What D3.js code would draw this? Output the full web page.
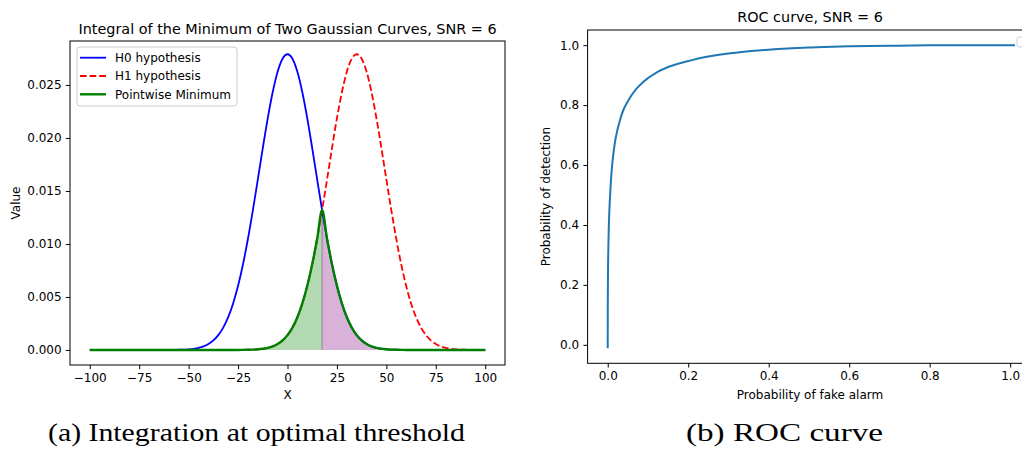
<!DOCTYPE html>
<html>
<head>
<meta charset="utf-8">
<script src="https://cdn.jsdelivr.net/npm/d3@7"></script>
<style>
  body { margin: 0; background: #fff; }
  svg { display: block; font-family: "DejaVu Sans", sans-serif; }
</style>
</head>
<body>
<svg id="fig" width="1022" height="450"></svg>
<script>
// x grid of the two gaussian curves
const xValues = [
  -100, -97.5, -95, -92.5, -90, -87.5, -85, -82.5, -80, -77.5, -75, -72.5, -70, -67.5, -65, -62.5,
  -60, -57.5, -55, -52.5, -50, -47.5, -45, -42.5, -40, -37.5, -35, -32.5, -30, -27.5, -25, -22.5,
  -20, -17.5, -15, -12.5, -10, -7.5, -5, -2.5, 0, 2.5, 5, 7.5, 10, 12.5, 15, 17.5,
  20, 22.5, 25, 27.5, 30, 32.5, 35, 37.5, 40, 42.5, 45, 47.5, 50, 52.5, 55, 57.5,
  60, 62.5, 65, 67.5, 70, 72.5, 75, 77.5, 80, 82.5, 85, 87.5, 90, 92.5, 95, 97.5, 100
];

const h0Values = [
  0, 0, 0, 0, 0, 0, 0, 0, 0, 0, 0, 0, 0, 0, 0, 0,
  0, 0.00001, 0.00002, 0.00003, 0.00006, 0.00011, 0.00020, 0.00034, 0.00056, 0.00090, 0.00140, 0.00211, 0.00309, 0.00439, 0.00605, 0.00809,
  0.01049, 0.01320, 0.01609, 0.01904, 0.02185, 0.02431, 0.02625, 0.02748, 0.02790, 0.02748, 0.02625, 0.02431, 0.02185, 0.01904, 0.01609, 0.01320,
  0.01049, 0.00809, 0.00605, 0.00439, 0.00309, 0.00211, 0.00140, 0.00090, 0.00056, 0.00034, 0.00020, 0.00011, 0.00006, 0.00003, 0.00002, 0.00001,
  0, 0, 0, 0, 0, 0, 0, 0, 0, 0, 0, 0, 0, 0, 0, 0, 0
];

const h1Values = [
  0, 0, 0, 0, 0, 0, 0, 0, 0, 0, 0, 0, 0, 0, 0, 0,
  0, 0, 0, 0, 0, 0, 0, 0, 0, 0, 0, 0, 0, 0, 0, 0.00001,
  0.00002, 0.00003, 0.00006, 0.00011, 0.00020, 0.00034, 0.00056, 0.00090, 0.00140, 0.00211, 0.00309, 0.00439, 0.00605, 0.00809, 0.01049, 0.01320,
  0.01609, 0.01904, 0.02185, 0.02431, 0.02625, 0.02748, 0.02790, 0.02748, 0.02625, 0.02431, 0.02185, 0.01904, 0.01609, 0.01320, 0.01049, 0.00809,
  0.00605, 0.00439, 0.00309, 0.00211, 0.00140, 0.00090, 0.00056, 0.00034, 0.00020, 0.00011, 0.00006, 0.00003, 0.00002, 0.00001, 0, 0, 0
];

const threshold = 17.5;

// ROC curve points (right panel)
const pfaValues = [0, 0, 0.00001, 0.0001, 0.0005, 0.001, 0.002, 0.004, 0.007, 0.01, 0.015, 0.02, 0.03, 0.04,
  0.05, 0.075, 0.1, 0.15, 0.2, 0.25, 0.3, 0.4, 0.5, 0.6, 0.7, 0.8, 0.9, 1.0, 1.012];
const pdValues = [-0.011, 0.012, 0.04, 0.11, 0.215, 0.28, 0.355, 0.445, 0.525, 0.585, 0.648, 0.692, 0.748, 0.787,
  0.813, 0.86, 0.89, 0.927, 0.947, 0.962, 0.972, 0.985, 0.992, 0.996, 0.998, 0.9995, 0.9999, 1.0, 1.0];

const leftXTicks = [-100, -75, -50, -25, 0, 25, 50, 75, 100];
const leftYTicks = [0, 0.005, 0.01, 0.015, 0.02, 0.025];
const rightTicks = [0, 0.2, 0.4, 0.6, 0.8, 1.0];

const legendItems = [
  { label: "H0 hypothesis", color: "#0000ff", dash: null, width: 1.8 },
  { label: "H1 hypothesis", color: "#ff0000", dash: "6.7,2.9", width: 1.8 },
  { label: "Pointwise Minimum", color: "#008000", dash: null, width: 2.4 }
];

const svg = d3.select("#fig");
const tickFont = 12;

function styleAxis(g) {
  g.select(".domain").remove();
  g.selectAll(".tick line").attr("stroke", "#000").attr("stroke-width", 1);
  g.selectAll(".tick text").attr("fill", "#000").attr("font-size", tickFont)
    .attr("font-family", "DejaVu Sans, sans-serif");
}

// ---------- left panel ----------
const L = { left: 70, right: 505, top: 41, bottom: 365 };
const lx = d3.scaleLinear().domain([-110, 110]).range([L.left, L.right]);
const ly = d3.scaleLinear().domain([-0.00142, 0.02915]).range([L.bottom, L.top]);

const minPts = xValues.map((x, i) => ({ x, y: Math.min(h0Values[i], h1Values[i]) }));
const leftPart = minPts.filter((d) => d.x <= threshold);
const rightPart = minPts.filter((d) => d.x >= threshold);

const area = d3.area().curve(d3.curveMonotoneX)
  .x((d) => lx(d.x)).y0(ly(0)).y1((d) => ly(d.y));
const line = d3.line().curve(d3.curveMonotoneX)
  .x((d) => lx(d.x)).y((d) => ly(d.y));

const left = svg.append("g");

left.append("path").datum(leftPart).attr("d", area)
  .attr("fill", "#008000").attr("fill-opacity", 0.3);
left.append("path").datum(rightPart).attr("d", area)
  .attr("fill", "#800080").attr("fill-opacity", 0.3);
left.append("line")
  .attr("x1", lx(threshold)).attr("x2", lx(threshold))
  .attr("y1", ly(0)).attr("y2", ly(rightPart[0].y))
  .attr("stroke", "#806080").attr("stroke-opacity", 0.7).attr("stroke-width", 1);

const h0Pts = xValues.map((x, i) => ({ x, y: h0Values[i] }));
const h1Pts = xValues.map((x, i) => ({ x, y: h1Values[i] }));

left.append("path").datum(h0Pts).attr("d", line)
  .attr("fill", "none").attr("stroke", "#0000ff").attr("stroke-width", 1.8);
left.append("path").datum(h1Pts).attr("d", line)
  .attr("fill", "none").attr("stroke", "#ff0000").attr("stroke-width", 1.8)
  .attr("stroke-dasharray", "6.7,2.9");
left.append("path").datum(minPts).attr("d", line)
  .attr("fill", "none").attr("stroke", "#008000").attr("stroke-width", 2.4)
  .attr("stroke-linejoin", "round");

left.append("rect")
  .attr("x", L.left).attr("y", L.top)
  .attr("width", L.right - L.left).attr("height", L.bottom - L.top)
  .attr("fill", "none").attr("stroke", "#000").attr("stroke-width", 1);

left.append("g").attr("transform", `translate(0,${L.bottom})`)
  .call(d3.axisBottom(lx).tickValues(leftXTicks).tickSize(4.2).tickPadding(4.2).tickFormat(d3.format("d")))
  .call(styleAxis);
left.append("g").attr("transform", `translate(${L.left},0)`)
  .call(d3.axisLeft(ly).tickValues(leftYTicks).tickSize(4.2).tickPadding(4.2).tickFormat(d3.format(".3f")))
  .call(styleAxis);

left.append("text")
  .attr("x", (L.left + L.right) / 2).attr("y", 33.5)
  .attr("text-anchor", "middle").attr("font-size", 14.4)
  .text("Integral of the Minimum of Two Gaussian Curves, SNR = 6");
left.append("text")
  .attr("x", (L.left + L.right) / 2).attr("y", 399)
  .attr("text-anchor", "middle").attr("font-size", 12).text("X");
left.append("text")
  .attr("transform", `translate(19.5,${(L.top + L.bottom) / 2}) rotate(-90)`)
  .attr("text-anchor", "middle").attr("font-size", 12).text("Value");

// legend
const legend = left.append("g");
legend.append("rect")
  .attr("x", 77).attr("y", 47).attr("width", 160).attr("height", 59).attr("rx", 3)
  .attr("fill", "#fff").attr("fill-opacity", 0.8).attr("stroke", "#cccccc").attr("stroke-width", 1);
legendItems.forEach((item, i) => {
  const yy = 57.7 + i * 18.3;
  legend.append("line")
    .attr("x1", 80).attr("x2", 106).attr("y1", yy).attr("y2", yy)
    .attr("stroke", item.color).attr("stroke-width", item.width)
    .attr("stroke-dasharray", item.dash);
  legend.append("text")
    .attr("x", 115).attr("y", yy + 4.3).attr("font-size", 12).text(item.label);
});

// ---------- right panel ----------
const R = { left: 587.6, right: 1030.3, top: 30, bottom: 363.3 };
const rx = d3.scaleLinear().domain([-0.05, 1.05]).range([R.left, R.right]);
const ry = d3.scaleLinear().domain([-0.0616, 1.0506]).range([R.bottom, R.top]);

const right = svg.append("g");
const rocPts = pfaValues.map((p, i) => ({ x: p, y: pdValues[i] }));

right.append("path").datum(rocPts)
  .attr("d", d3.line().curve(d3.curveMonotoneY).x((d) => rx(d.x)).y((d) => ry(d.y)))
  .attr("fill", "none").attr("stroke", "#1f77b4").attr("stroke-width", 2);

right.append("rect")
  .attr("x", R.left).attr("y", R.top)
  .attr("width", R.right - R.left).attr("height", R.bottom - R.top)
  .attr("fill", "none").attr("stroke", "#000").attr("stroke-width", 1);

// empty legend box, cut by the figure edge
right.append("rect")
  .attr("x", 1017).attr("y", 37).attr("width", 30).attr("height", 10).attr("rx", 2.5)
  .attr("fill", "#fff").attr("stroke", "#cccccc").attr("stroke-width", 1);

right.append("g").attr("transform", `translate(0,${R.bottom})`)
  .call(d3.axisBottom(rx).tickValues(rightTicks).tickSize(4.2).tickPadding(4.2).tickFormat(d3.format(".1f")))
  .call(styleAxis);
right.append("g").attr("transform", `translate(${R.left},0)`)
  .call(d3.axisLeft(ry).tickValues(rightTicks).tickSize(4.2).tickPadding(4.2).tickFormat(d3.format(".1f")))
  .call(styleAxis);

right.append("text")
  .attr("x", 810).attr("y", 22)
  .attr("text-anchor", "middle").attr("font-size", 14.4).text("ROC curve, SNR = 6");
right.append("text")
  .attr("x", 810).attr("y", 399)
  .attr("text-anchor", "middle").attr("font-size", 12).text("Probability of fake alarm");
right.append("text")
  .attr("transform", `translate(550,${(R.top + R.bottom) / 2}) rotate(-90)`)
  .attr("text-anchor", "middle").attr("font-size", 12).text("Probability of detection");

// ---------- captions ----------
svg.append("text")
  .attr("x", 48).attr("y", 441)
  .attr("font-family", "Liberation Serif, serif").attr("font-size", 26)
  .attr("textLength", 417).attr("lengthAdjust", "spacingAndGlyphs")
  .text("(a) Integration at optimal threshold");
svg.append("text")
  .attr("x", 686).attr("y", 441)
  .attr("font-family", "Liberation Serif, serif").attr("font-size", 26)
  .attr("textLength", 197).attr("lengthAdjust", "spacingAndGlyphs")
  .text("(b) ROC curve");
</script>
</body>
</html>
